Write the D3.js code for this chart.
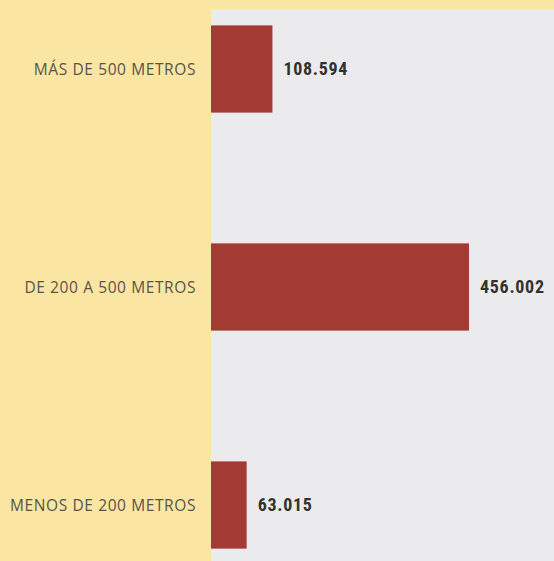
<!DOCTYPE html>
<html>
<head>
<meta charset="utf-8">
<script src="https://cdn.jsdelivr.net/npm/d3@7"></script>
<style>
  body { margin: 0; background: #fae6a2; }
</style>
</head>
<body>
<svg id="chart"></svg>
<script>
var categories = ["MÁS DE 500 METROS", "DE 200 A 500 METROS", "MENOS DE 200 METROS"];
var values = [108594, 456002, 63015];
var valueLabels = ["108.594", "456.002", "63.015"];

var width = 554,
    height = 561;

var svg = d3.select("#chart")
    .attr("width", width)
    .attr("height", height);

// yellow label side
svg.append("rect")
    .attr("width", width)
    .attr("height", height)
    .attr("fill", "#fae6a2");

// gray plot panel
svg.append("rect")
    .attr("x", 211)
    .attr("y", 9)
    .attr("width", width - 211)
    .attr("height", height - 9)
    .attr("fill", "#ebebed");

var x = d3.scaleLinear()
    .domain([0, d3.max(values)])
    .range([211, 469]);

var y = d3.scaleBand()
    .domain(categories)
    .range([-40, 614])
    .paddingInner(0.6)
    .paddingOuter(0.3);

// bars
svg.selectAll("rect.bar")
    .data(values)
    .enter()
    .append("rect")
    .attr("class", "bar")
    .attr("x", x(0))
    .attr("y", function (d, i) { return y(categories[i]); })
    .attr("width", function (d) { return x(d) - x(0); })
    .attr("height", y.bandwidth())
    .attr("fill", "#a33b34");

// value labels
svg.selectAll("text.value")
    .data(values)
    .enter()
    .append("text")
    .attr("class", "value")
    .attr("x", function (d) { return x(d) + 11; })
    .attr("y", function (d, i) { return y(categories[i]) + y.bandwidth() / 2; })
    .attr("dy", "0.35em")
    .style("font-family", "'Liberation Sans Narrow', 'Roboto Condensed', sans-serif")
    .style("font-weight", "bold")
    .style("font-size", "18px")
    .style("letter-spacing", "0.7px")
    .attr("fill", "#33312e")
    .text(function (d, i) { return valueLabels[i]; });

// category labels
svg.selectAll("text.cat")
    .data(categories)
    .enter()
    .append("text")
    .attr("class", "cat")
    .attr("text-anchor", "end")
    .attr("x", 196)
    .attr("y", function (d) { return y(d) + y.bandwidth() / 2 + 1; })
    .attr("dy", "0.35em")
    .style("font-family", "'Open Sans', sans-serif")
    .style("font-size", "15.5px")
    .style("letter-spacing", "0.6px")
    .attr("fill", "#57534a")
    .text(function (d) { return d; });
</script>
</body>
</html>
